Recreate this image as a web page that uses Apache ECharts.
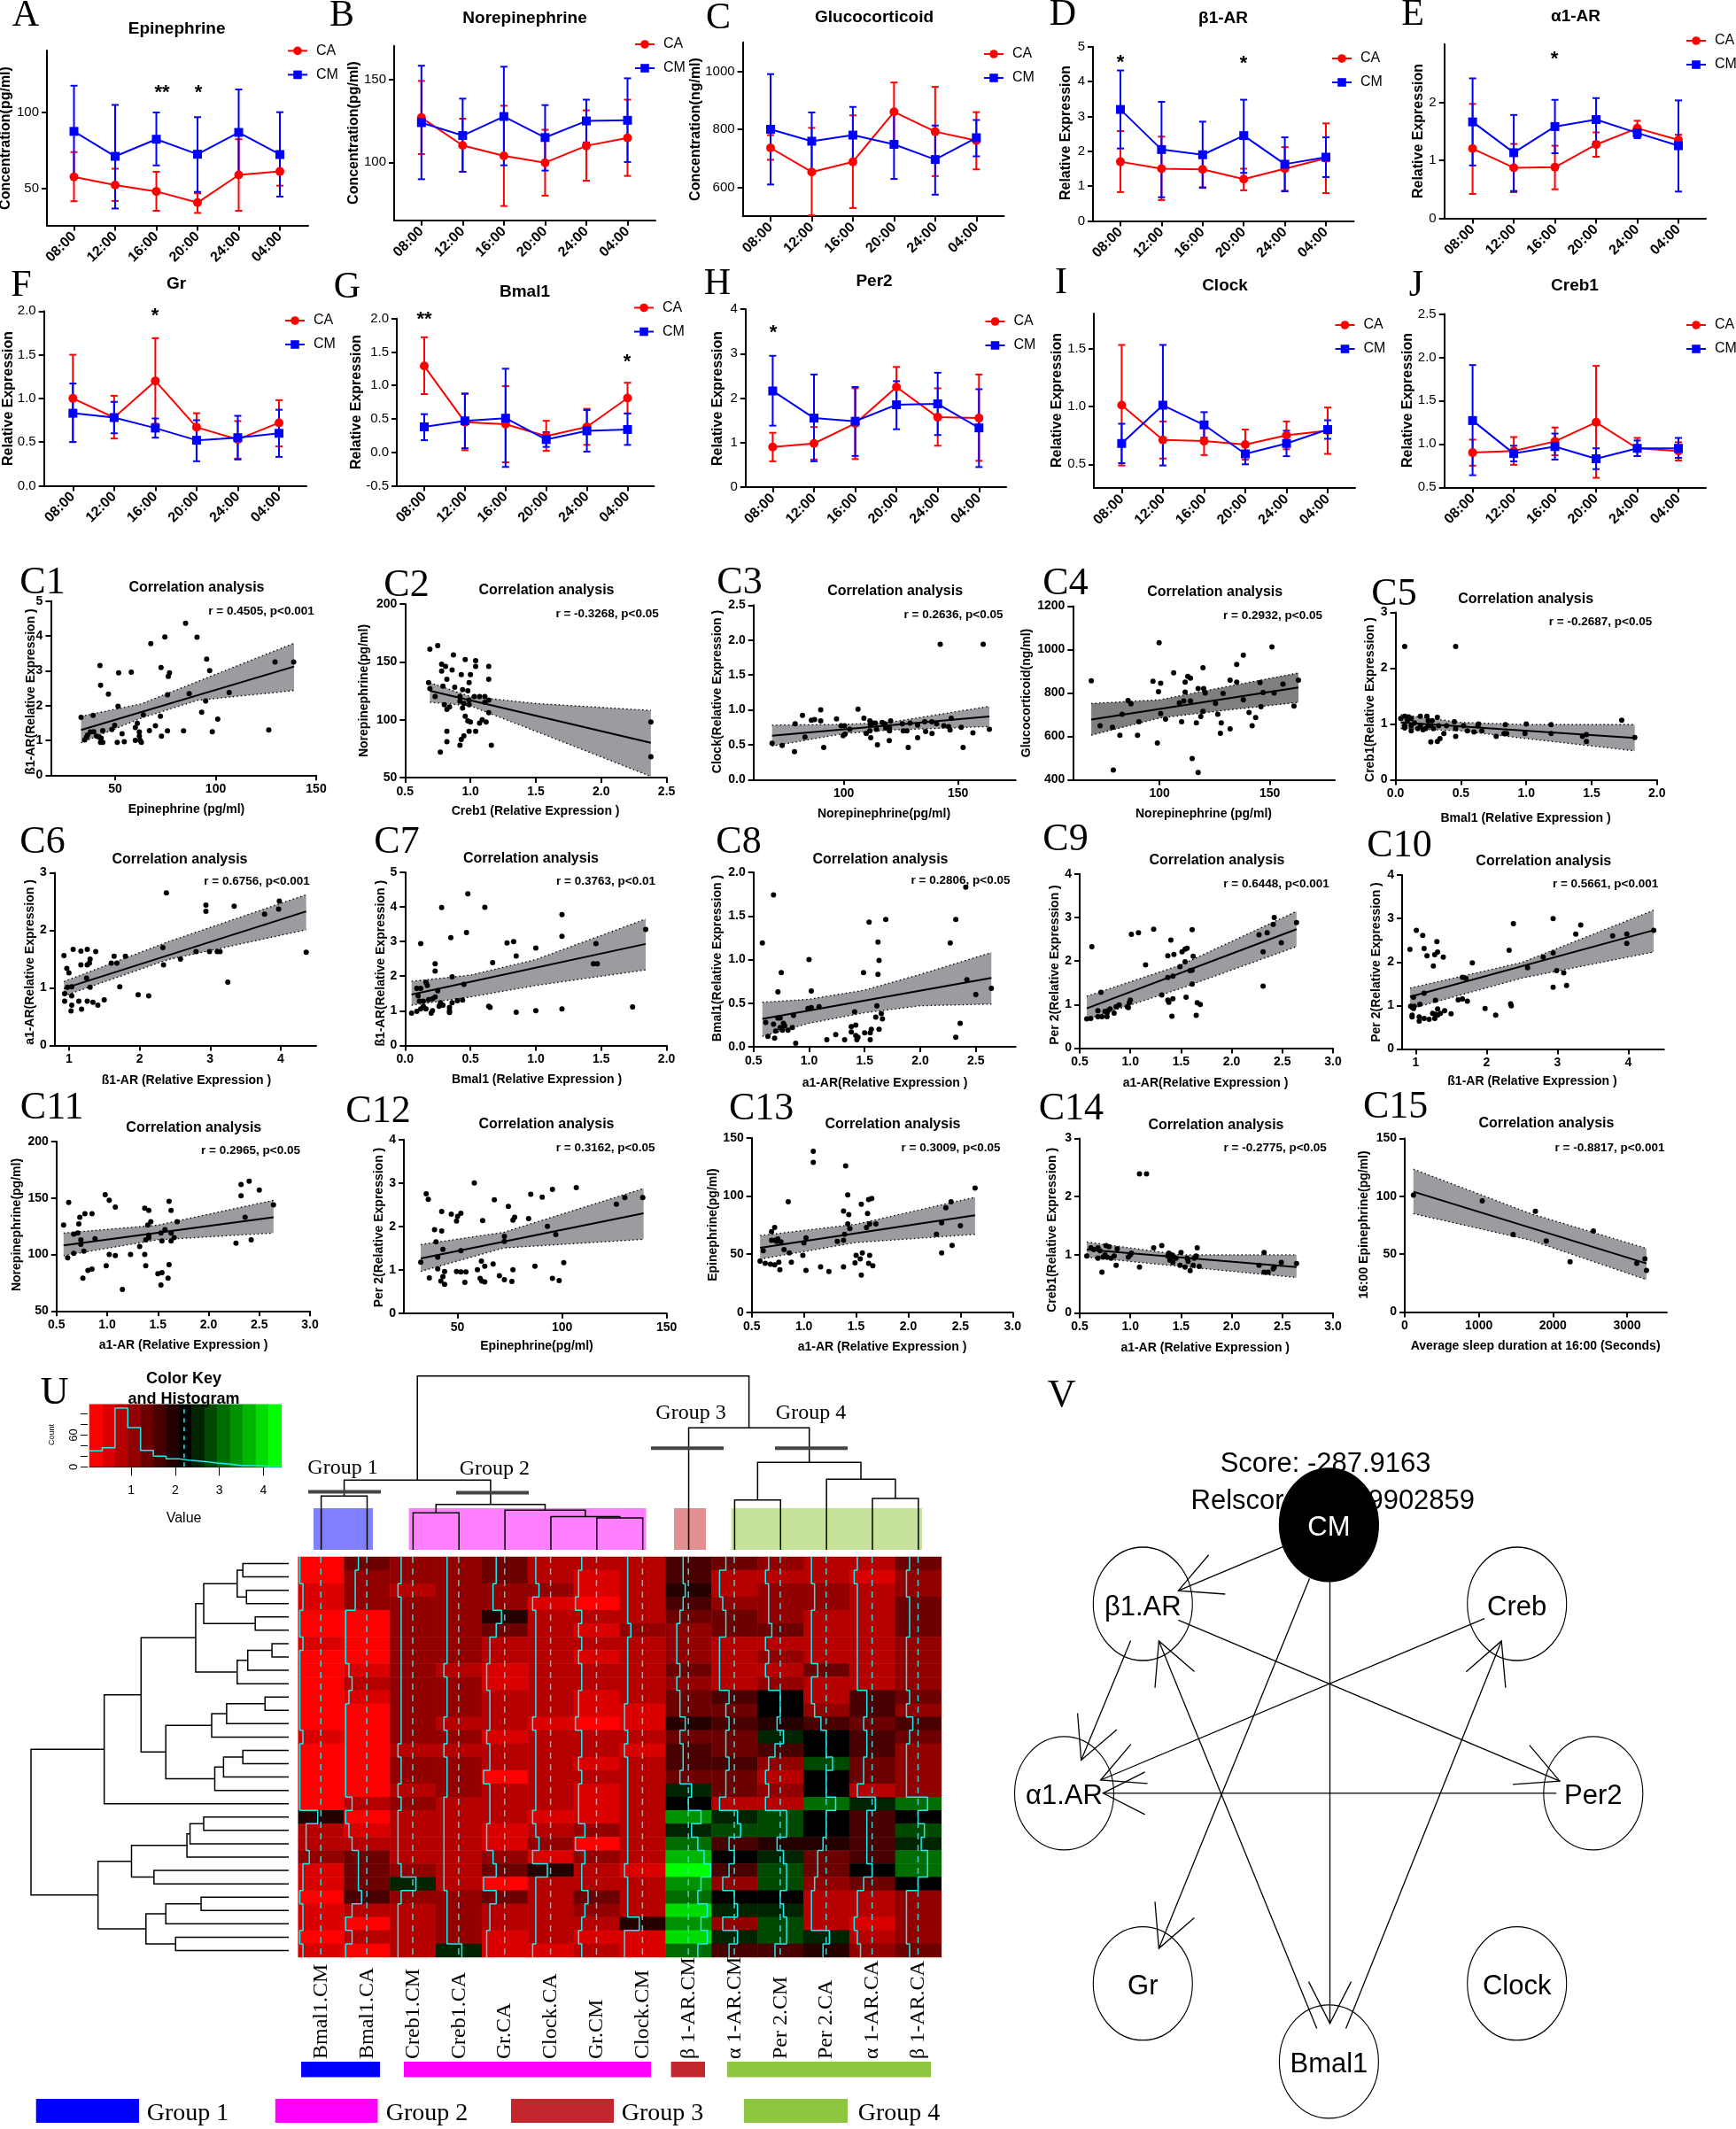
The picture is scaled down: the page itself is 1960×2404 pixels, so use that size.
<!DOCTYPE html>
<html>
<head>
<meta charset="utf-8">
<title>Figure</title>
<script src="https://cdn.jsdelivr.net/npm/echarts@6/dist/echarts.min.js"></script>
<style>
html, body { margin: 0; padding: 0; background: #fff; }
#main { width: 1960px; height: 2404px; }
</style>
</head>
<body>
<div id="main"></div>
<script>
// time course panels: means and error bar ends
const times = ['08:00', '12:00', '16:00', '20:00', '24:00', '04:00'];

const aCA = [57.4, 52, 47.8, 40.4, 58.7, 61];
const aCAhi = [73.8, 62.8, 60.8, 46.6, 82.3, 71];
const aCAlo = [41.3, 41.5, 35, 33.6, 35, 51.6];
const aCM = [87.5, 71, 82.3, 72.4, 86.8, 72.2];
const aCMhi = [117.7, 105, 100, 96.9, 115.2, 100.2];
const aCMlo = [57, 36.5, 65, 47.5, 58.7, 44.4];

const bCA = [127, 110.2, 103.9, 99.8, 110, 114.8];
const bCAhi = [149.2, 126.4, 134.2, 119.7, 131.4, 137.9];
const bCAlo = [105, 94.3, 73.6, 79.9, 88.9, 91.8];
const bCM = [124, 116.2, 127.7, 115, 125, 125.4];
const bCMhi = [158.4, 138.5, 157.8, 134.6, 137.9, 150.8];
const bCMlo = [89.8, 94.3, 98.2, 95, 112, 100.2];

const cCA = [736, 653, 688, 860, 792, 761];
const cCAhi = [780, 805, 848, 961, 946, 859];
const cCAlo = [695, 504, 529, 758, 639, 662];
const cCM = [800, 759, 780, 748, 696, 771];
const cCMhi = [990, 858, 877, 865, 813, 832];
const cCMlo = [610, 658, 685, 629, 575, 707];

const dCA = [1.7, 1.5, 1.48, 1.2, 1.5, 1.8];
const dCAhi = [2.58, 2.42, 1.98, 1.5, 2.12, 2.8];
const dCAlo = [0.83, 0.6, 0.97, 0.88, 0.87, 0.8];
const dCM = [3.2, 2.05, 1.9, 2.45, 1.63, 1.83];
const dCMhi = [4.32, 3.42, 2.85, 3.48, 2.4, 2.4];
const dCMlo = [2.08, 0.68, 0.95, 1.38, 0.85, 1.26];

const eCA = [1.2, 0.87, 0.88, 1.27, 1.55, 1.35];
const eCAhi = [1.97, 1.28, 1.25, 1.48, 1.68, 1.44];
const eCAlo = [0.42, 0.45, 0.5, 1.06, 1.43, 1.27];
const eCM = [1.66, 1.13, 1.58, 1.7, 1.47, 1.25];
const eCMhi = [2.41, 1.78, 2.04, 2.07, 1.55, 2.03];
const eCMlo = [0.91, 0.47, 1.12, 1.32, 1.38, 0.46];

const fCA = [1.0, 0.78, 1.2, 0.67, 0.53, 0.72];
const fCAhi = [1.5, 1.03, 1.69, 0.83, 0.74, 0.98];
const fCAlo = [0.5, 0.54, 0.71, 0.5, 0.31, 0.45];
const fCM = [0.83, 0.78, 0.66, 0.52, 0.55, 0.6];
const fCMhi = [1.17, 0.96, 0.77, 0.75, 0.8, 0.87];
const fCMlo = [0.5, 0.6, 0.55, 0.28, 0.3, 0.33];

const gCA = [1.29, 0.45, 0.42, 0.24, 0.38, 0.81];
const gCAhi = [1.72, 0.87, 0.99, 0.47, 0.65, 1.04];
const gCAlo = [0.87, 0.03, -0.15, 0.02, 0.11, 0.58];
const gCM = [0.38, 0.47, 0.51, 0.19, 0.32, 0.34];
const gCMhi = [0.57, 0.88, 1.25, 0.3, 0.63, 0.58];
const gCMlo = [0.18, 0.06, -0.22, 0.08, 0.01, 0.11];

const hCA = [0.9, 0.98, 1.43, 2.25, 1.57, 1.55];
const hCAhi = [1.22, 1.35, 2.22, 2.7, 2.22, 2.53];
const hCAlo = [0.58, 0.62, 0.63, 1.78, 0.93, 0.59];
const hCM = [2.16, 1.55, 1.48, 1.85, 1.87, 1.33];
const hCMhi = [2.95, 2.53, 2.25, 2.38, 2.57, 2.2];
const hCMlo = [1.38, 0.58, 0.7, 1.3, 1.17, 0.45];

const iCA = [1.01, 0.71, 0.7, 0.67, 0.75, 0.79];
const iCAhi = [1.53, 0.87, 0.85, 0.8, 0.87, 0.99];
const iCAlo = [0.49, 0.55, 0.58, 0.54, 0.63, 0.59];
const iCM = [0.68, 1.01, 0.84, 0.59, 0.68, 0.8];
const iCMhi = [0.85, 1.53, 0.95, 0.68, 0.79, 0.88];
const iCMlo = [0.51, 0.49, 0.73, 0.5, 0.57, 0.72];

const jCA = [0.9, 0.92, 1.03, 1.25, 0.95, 0.92];
const jCAhi = [1.05, 1.08, 1.19, 1.9, 1.07, 1.02];
const jCAlo = [0.75, 0.76, 0.87, 0.61, 0.86, 0.81];
const jCM = [1.27, 0.89, 0.97, 0.83, 0.95, 0.95];
const jCMhi = [1.91, 0.98, 1.12, 0.95, 1.04, 1.07];
const jCMlo = [0.64, 0.8, 0.82, 0.71, 0.86, 0.84];

// correlation panels: points, fit line, band edges
const c1Points = [[33,1.66],[39,1.72],[42.4,3.15],[42.7,2.58],[46.6,2.33],[51.4,1.98],[51.7,2.94],[58,2.96],[67.7,3.78],[72.8,3.09],[74.7,3.97],[85,4.36],[90.7,3.96],[95.5,3.33],[97,3],[76.4,2.84],[77,2.94],[76,2.31],[86.8,2.34],[95,2.13],[106.7,2.37],[101,1.61],[93,1.81],[98.3,1.25],[84,1.27],[126.4,1.3],[129.5,3.25],[138.8,3.25],[64,1.73],[72.5,1.69],[61,1.49],[60,1.37],[49.7,1.43],[48.3,1.31],[43.8,1.28],[37.6,1.24],[39.3,1.25],[36.2,1.15],[34.8,1.01],[35.7,1.09],[40.7,1.12],[42,1.09],[43,1.06],[43.8,0.94],[42.7,0.94],[51,0.94],[54.5,0.96],[53.4,1.19],[60,1],[62,1.24],[62,1.12],[62.4,1],[63,0.94],[67,1.28],[70,1.42],[73,1.12],[76,1.27]];
const c1Line = [[33,1.3],[139,3.12]];
const c1Upper = [[33,1.69],[63,2.05],[91,2.69],[139,3.79]];
const c1Lower = [[33,0.93],[63,1.64],[91,2.15],[139,2.43]];

const c2Points = [[0.69,161],[0.75,164],[0.87,156],[0.68,132],[0.69,127],[0.73,120],[0.78,148],[0.81,146],[0.78,142],[0.86,143],[0.96,152],[0.93,139],[1,139],[1.04,146],[1.04,151],[1.14,146],[1.14,135],[0.82,135],[0.79,129],[0.88,128],[0.94,126],[0.98,125],[0.99,132],[0.8,113],[0.84,111],[0.82,109],[0.92,120],[0.92,116],[0.95,114],[0.99,117],[0.99,113],[1.03,120],[1.07,120],[1.11,120],[1.11,115],[1.14,117],[1.14,106],[0.94,110],[0.96,103],[0.98,99],[1,98],[1.09,100],[1.12,98],[1.07,97],[0.82,90],[0.99,90],[1.04,90],[0.95,86],[0.93,83],[0.82,81],[0.92,78],[1.16,78],[0.77,72],[2.38,98],[2.38,68]];
const c2Line = [[0.69,125],[2.38,80]];
const c2Upper = [[0.69,132],[1,120],[1.5,114],[2.38,108]];
const c2Lower = [[0.69,115],[1,112],[1.5,90],[2.38,51]];

const c3Points = [[68.6,0.52],[73,0.49],[78.4,0.4],[78.7,0.8],[81.9,0.92],[83,0.61],[85.8,0.85],[87.2,0.86],[89.9,1],[89.9,0.84],[91.2,0.46],[96.8,0.87],[98.8,0.77],[100.3,0.77],[99.7,0.63],[100.5,0.65],[102.6,0.72],[106.2,1.01],[108.8,0.88],[109.8,0.66],[111.4,0.7],[111.8,0.6],[111.4,0.84],[112.7,0.81],[111.6,0.79],[113.8,0.81],[114.3,0.72],[114.7,0.5],[116.8,0.82],[118,0.8],[118.3,0.74],[119.9,0.56],[120,0.7],[120,0.74],[120.5,0.84],[125.6,0.8],[126,0.7],[127.6,0.7],[128.2,0.46],[129,0.81],[132.3,0.6],[132.3,0.78],[135.4,0.83],[135.8,0.69],[138.5,0.83],[138.6,0.66],[140.6,0.8],[142.2,1.94],[143.8,0.77],[145.9,0.76],[146.5,0.71],[147,0.88],[151.4,0.75],[152.2,0.46],[156.5,0.67],[161,1.94],[163.7,0.72]];
const c3Line = [[68.6,0.63],[163.7,0.905]];
const c3Upper = [[68.6,0.78],[100,0.79],[120,0.82],[163.7,1.05]];
const c3Lower = [[68.6,0.48],[100,0.66],[120,0.71],[163.7,0.76]];

const c4Points = [[69,857],[73,649],[78.6,642],[79,445],[82,606],[83,702],[85.7,766],[87,750],[90,606],[90.6,668],[97,855],[99.5,807],[99.8,1032],[100.5,845],[99,570],[100.5,706],[102.7,680],[106.4,893],[109,754],[110,668],[111,764],[111.6,850],[111.6,805],[112.8,877],[114,869],[114,764],[114.8,498],[116.7,663],[117.5,434],[117.5,821],[118.7,692],[119.7,917],[119.7,716],[120,821],[120.7,800],[125.4,752],[126.4,702],[127.6,615],[128.8,798],[128,663],[132,860],[132,635],[135,932],[135,850],[138,975],[138,769],[140.6,711],[142,649],[143.6,687],[145.6,848],[146,737],[147,802],[151,1013],[152,800],[156,841],[161,740],[163,860]];
const c4Line = [[69,678],[163,826]];
const c4Upper = [[69,752],[100,769],[130,829],[163,893]];
const c4Lower = [[69,606],[100,685],[130,721],[163,757]];

const c5Points = [[0.07,2.39],[0.46,2.39],[0.04,1.1],[0.07,1.14],[0.1,1.13],[0.12,1.1],[0.19,1.14],[0.24,1.14],[0.32,1.12],[0.45,1.04],[0.28,1.06],[0.25,1.06],[0.09,1.06],[0.07,0.97],[0.07,0.93],[0.12,0.97],[0.12,0.88],[0.145,1.02],[0.17,0.92],[0.19,0.97],[0.21,0.9],[0.23,0.92],[0.25,0.97],[0.27,0.97],[0.29,0.92],[0.33,0.97],[0.39,0.97],[0.46,0.92],[0.37,0.83],[0.46,0.78],[0.27,0.68],[0.32,0.69],[0.34,0.74],[0.52,0.97],[0.63,0.97],[0.635,1],[0.55,0.88],[0.6,0.86],[0.66,0.88],[0.77,0.78],[0.83,0.83],[0.85,0.83],[0.84,0.99],[1,1],[0.99,0.83],[1.19,0.99],[1.19,0.83],[1.43,0.78],[1.46,0.81],[1.46,0.69],[1.73,1.07],[1.83,0.76]];
const c5Line = [[0.04,1.03],[1.83,0.75]];
const c5Upper = [[0.04,1.17],[0.5,1.03],[1,0.99],[1.83,0.99]];
const c5Lower = [[0.04,0.92],[0.5,0.88],[1,0.74],[1.83,0.52]];

const c6Points = [[0.93,1.56],[0.97,1.34],[1,1.26],[1.06,1.67],[0.94,0.9],[0.94,0.77],[0.98,1.01],[1.04,1.02],[1.04,0.86],[1.03,0.6],[1.04,0.7],[1.14,0.77],[1.18,0.63],[1.17,1.64],[1.26,1.67],[1.3,1.5],[1.26,1.4],[1.29,1.43],[1.38,1.63],[1.25,1.17],[1.17,1.4],[1.3,1.01],[1.26,0.77],[1.34,0.75],[1.41,0.7],[1.5,0.79],[1.6,1.43],[1.64,1.55],[1.68,1.43],[1.72,1.02],[1.8,1.55],[1.98,0.88],[2.13,0.86],[2.33,1.7],[2.34,1.4],[2.38,2.65],[2.58,1.5],[2.8,1.63],[2.94,2.44],[2.94,2.33],[2.99,1.63],[3.1,1.63],[3.14,1.63],[3.25,1.1],[3.34,2.42],[3.77,2.28],[3.97,2.37],[3.98,2.51],[4.36,1.62]];
const c6Line = [[0.93,0.99],[4.36,2.33]];
const c6Upper = [[0.93,1.11],[2.4,1.8],[4.36,2.62]];
const c6Lower = [[0.93,0.86],[2.4,1.49],[4.36,2.01]];

const c7Points = [[0.48,4.38],[0.28,3.98],[0.61,3.99],[0.47,3.26],[0.35,3.11],[0.12,2.94],[0.78,2.96],[0.83,3],[1.2,3.78],[1.2,3.15],[1,2.81],[1.84,3.35],[1.46,2.94],[0.23,2.36],[0.23,2.15],[0.85,2.58],[0.67,2.39],[1.44,2.36],[1.47,2.36],[0.36,1.98],[0.45,1.76],[0.16,1.82],[0.17,1.73],[0.09,1.65],[0.12,1.65],[0.25,1.58],[0.23,1.4],[0.1,1.43],[0.21,1.35],[0.18,1.32],[0.14,1.28],[0.11,1.28],[0.44,1.31],[0.4,1.29],[0.36,1.23],[0.27,1.23],[0.29,1.16],[0.34,1.1],[0.34,1],[0.34,0.95],[0.26,1.13],[0.14,1.13],[0.12,1.05],[0.16,1.05],[0.21,1],[0.2,0.93],[0.05,0.93],[0.09,0.98],[0.64,1.13],[0.65,1.1],[0.85,0.96],[1,1],[1.2,1.05],[1.74,1.11]];
const c7Line = [[0.05,1.47],[1.84,2.93]];
const c7Upper = [[0.05,1.85],[0.5,2.03],[1,2.48],[1.84,3.65]];
const c7Lower = [[0.05,1.16],[0.5,1.4],[1,1.73],[1.84,2.18]];

const c8Points = [[0.58,1.19],[0.68,1.74],[0.61,0.28],[0.63,0.12],[0.68,0.26],[0.69,0.1],[0.7,0.18],[0.72,0.33],[0.72,0.63],[0.74,0.33],[0.74,0.22],[0.75,0.85],[0.76,0.19],[0.77,0.27],[0.78,0.24],[0.81,0.19],[0.85,0.22],[0.86,0.36],[0.88,0.04],[0.99,0.44],[1,1],[1.02,0.45],[1.02,0.64],[1.09,0.46],[1.16,0.08],[1.24,0.14],[1.32,0.08],[1.38,0.23],[1.38,0.17],[1.41,0.4],[1.42,0.25],[1.42,0.13],[1.43,0.08],[1.44,0.11],[1.49,0.85],[1.5,0.16],[1.54,1.43],[1.55,0.08],[1.55,0.16],[1.56,0.2],[1.6,0.34],[1.61,0.47],[1.62,1.2],[1.62,0.83],[1.63,0.2],[1.63,0.99],[1.65,0.38],[1.66,0.32],[1.69,1.46],[2.27,1.19],[2.32,1.46],[2.32,0.11],[2.36,0.27],[2.41,1.83],[2.42,0.77],[2.5,0.6],[2.64,0.67]];
const c8Line = [[0.58,0.32],[2.64,0.79]];
const c8Upper = [[0.58,0.51],[1,0.545],[1.5,0.65],[2,0.83],[2.64,1.08]];
const c8Lower = [[0.58,0.12],[1,0.27],[1.5,0.39],[2,0.47],[2.64,0.49]];

const c9Points = [[0.62,2.33],[0.57,0.67],[0.61,0.68],[0.68,0.72],[0.68,0.86],[0.71,1.28],[0.72,0.72],[0.75,0.84],[0.77,0.8],[0.78,0.86],[0.8,0.9],[0.77,0.72],[0.84,0.8],[0.86,0.95],[0.89,0.99],[0.97,0.95],[0.99,1.04],[1,1.1],[0.98,0.93],[1.01,2.61],[1.08,2.65],[1.23,2.73],[1.15,1.91],[1.31,1.22],[1.37,1.1],[1.37,1.62],[1.37,2.12],[1.4,2.48],[1.43,2.15],[1.42,1.65],[1.42,1.13],[1.41,0.73],[1.38,1.05],[1.49,1.87],[1.51,2.21],[1.54,2.27],[1.56,2.29],[1.54,1.98],[1.55,1.17],[1.61,2.72],[1.62,2.11],[1.59,1.78],[1.61,1.47],[1.61,1.79],[1.65,0.75],[1.66,1.04],[1.69,1],[2.27,2.6],[2.35,2.65],[2.31,2.21],[2.31,1.42],[2.41,2.84],[2.42,3],[2.49,2.42],[2.64,2.88]];
const c9Line = [[0.57,0.91],[2.64,2.73]];
const c9Upper = [[0.57,1.19],[1.5,1.91],[2.64,3.14]];
const c9Lower = [[0.57,0.66],[1.5,1.37],[2.64,2.33]];

const c10Points = [[0.92,2.29],[1.01,2.73],[1.1,2.61],[1.12,2.31],[1.16,2.14],[1.25,1.91],[1.27,2.17],[1.3,2.47],[1.31,2.23],[1.39,2.11],[0.97,1.19],[1.12,1.28],[0.93,0.98],[0.98,0.98],[0.97,0.93],[1.06,1.03],[1.28,1.12],[0.95,0.78],[0.95,0.74],[1.05,0.74],[1.05,0.64],[1.12,0.7],[1.19,0.68],[1.27,0.7],[1.24,0.82],[1.28,0.8],[1.31,0.92],[1.31,0.78],[1.35,0.82],[1.41,0.88],[1.5,0.81],[1.6,1.13],[1.66,1.15],[1.73,1.1],[1.66,1.65],[1.71,1.62],[1.8,1.98],[1.98,0.93],[2.13,0.78],[2.32,2.27],[2.34,1.04],[2.35,0.99],[2.38,2.88],[2.58,1.87],[2.8,2.11],[2.94,1.42],[2.94,3],[2.94,2.21],[2.99,1.8],[3.09,1.75],[3.13,1.46],[3.26,2.64],[3.33,2.85],[3.78,2.6],[3.98,2.64],[3.98,2.43],[4.36,2.73]];
const c10Line = [[0.92,1.2],[4.36,2.73]];
const c10Upper = [[0.92,1.4],[2.5,1.99],[4.36,3.19]];
const c10Lower = [[0.92,0.92],[2.5,1.63],[4.36,2.23]];

const c11Points = [[0.57,126],[0.62,146],[0.61,97],[0.67,101],[0.67,118],[0.71,119],[0.72,127],[0.73,133],[0.78,136],[0.74,113],[0.74,109],[0.77,103],[0.76,79],[0.81,86],[0.85,87],[0.85,136],[0.88,114],[0.98,153],[1.02,148],[1.08,142],[0.99,90],[1.02,100],[1.08,99],[1.15,69],[1.23,100],[1.32,107],[1.37,141],[1.41,139],[1.43,129],[1.4,126],[1.38,113],[1.37,100],[1.38,90],[1.41,117],[1.41,115],[1.5,83],[1.53,119],[1.57,122],[1.54,112],[1.54,84],[1.53,73],[1.6,79],[1.61,91],[1.61,147],[1.63,139],[1.63,119],[1.63,112],[1.66,115],[1.69,129],[2.27,110],[2.32,162],[2.32,152],[2.36,133],[2.4,165],[2.42,113],[2.5,157],[2.64,144]];
const c11Line = [[0.57,108],[2.64,133]];
const c11Upper = [[0.57,119],[1.5,126],[2.64,148]];
const c11Lower = [[0.57,99],[1.5,113],[2.64,119]];

const c12Points = [[32.4,1.17],[35,2.75],[36,2.62],[36.5,0.81],[39,1.92],[39.7,1.64],[40.5,1.29],[40.5,1.02],[42.4,1.89],[42.4,2.34],[43,1.47],[42,0.74],[43,0.84],[43.8,0.96],[43.8,0.66],[47,2.28],[50,2.23],[49.5,2.12],[51.6,2.3],[49.5,0.96],[51.6,0.95],[51.6,1.44],[53.5,0.71],[54,0.95],[58,3],[59.5,1],[60.8,0.8],[61.6,0.74],[62,2.13],[61.4,1.2],[63,1.08],[63,0.72],[67,1.13],[67.6,2.61],[70,0.86],[72.4,1.77],[72.4,1.65],[72.4,0.77],[74.3,2.46],[76,0.73],[76.5,1],[76.5,2.14],[77.3,2.21],[84,2.18],[85,2.74],[87,1.08],[90.5,2.67],[93,2],[95.4,2.85],[95.4,0.8],[97,1.81],[98.6,0.75],[100.8,1.16],[106.8,2.89],[126,2.51],[130,2.66],[138.6,2.66]];
const c12Line = [[32.4,1.26],[139,2.3]];
const c12Upper = [[32.4,1.58],[72,1.86],[139,2.87]];
const c12Lower = [[32.4,0.96],[72,1.5],[139,1.7]];

const c13Points = [[0.58,44],[0.61,53],[0.63,42],[0.68,41.4],[0.69,69.4],[0.69,62],[0.72,73],[0.72,62],[0.72,40.7],[0.74,61],[0.75,63],[0.76,43],[0.77,36.6],[0.78,60.5],[0.81,54],[0.85,95],[0.86,51],[0.88,43],[0.99,49],[1,59.7],[1.02,64],[1.02,36],[1.09,138.5],[1.09,129],[1.16,39],[1.24,35],[1.32,61],[1.38,87],[1.38,62],[1.38,39],[1.39,67],[1.4,126],[1.42,101],[1.42,76],[1.43,84],[1.44,72],[1.49,42.4],[1.5,49],[1.54,46],[1.55,93],[1.55,32],[1.56,51],[1.6,73],[1.61,85],[1.62,97],[1.62,42],[1.63,76],[1.63,49],[1.65,98],[1.66,40],[1.69,76],[2.27,67],[2.32,51],[2.32,77],[2.36,90],[2.41,95],[2.42,57.5],[2.5,74.5],[2.64,107]];
const c13Line = [[0.58,55.4],[2.64,83.4]];
const c13Upper = [[0.58,66],[1.5,75.7],[2.64,99]];
const c13Lower = [[0.58,45.7],[1.5,60],[2.64,67]];

const c14Points = [[1.09,2.39],[1.16,2.39],[0.57,0.98],[0.61,1.12],[0.64,1.09],[0.68,1.12],[0.7,1.07],[0.68,0.94],[0.72,0.7],[0.73,0.96],[0.75,1],[0.77,0.96],[0.76,1.16],[0.79,1.14],[0.81,0.94],[0.84,0.98],[0.86,0.82],[0.87,1.1],[1,1],[1.01,1.03],[0.98,0.96],[1.09,0.79],[1.23,1.12],[1.31,1.16],[1.37,0.98],[1.38,1.03],[1.39,0.91],[1.41,1],[1.42,0.87],[1.43,0.96],[1.45,0.94],[1.49,0.82],[1.5,1.04],[1.54,0.79],[1.56,0.94],[1.57,0.89],[1.59,0.73],[1.62,0.82],[1.63,0.94],[1.66,1.12],[1.65,0.98],[1.68,0.8],[2.27,0.82],[2.32,1.04],[2.32,0.7],[2.36,0.7],[2.41,0.76],[2.42,0.79],[2.49,0.87],[2.64,0.85]];
const c14Line = [[0.57,1.09],[2.64,0.79]];
const c14Upper = [[0.57,1.22],[1.5,1],[2.64,1]];
const c14Lower = [[0.57,0.96],[1.5,0.8],[2.64,0.61]];

const c15Points = [[117,101],[1046,96],[1463,67],[1763,87],[1909,61.5],[2231,43.5],[2546,70],[3131,42],[3241,46],[3262,36]];
const c15Line = [[117,104],[3262,42]];
const c15Upper = [[117,123.5],[1700,85],[3262,55]];
const c15Lower = [[117,85],[1700,62],[3262,28]];

// heatmap, one list per column, top row first
const heatColumns = ['Bmal1.CM', 'Bmal1.CA', 'Creb1.CM', 'Creb1.CA', 'Gr.CA', 'Clock.CA', 'Gr.CM', 'Clock.CM', 'β 1-AR.CM', 'α 1-AR.CM', 'Per 2.CM', 'Per 2.CA', 'α 1-AR.CA', 'β 1-AR.CA'];
const heatValues = [
  [.2,.2,.5,.5,.2,.2,.5,.2,.2,.2,.2,.2,.2,.5,.2,.2,.2,.2,.2,1.9,.8,.8,1.1,.5,.5,.2,.5,.5,.2,.5],
  [1.4,1.1,1.1,1.1,.2,.2,.2,.2,.5,.8,.5,.2,.2,.2,.2,.2,.2,.2,.8,.2,.5,.8,1.4,1.4,1.4,1.7,.8,.2,.8,.2],
  [1.1,1.1,.8,1.1,1.1,1.1,1.1,1.1,1.1,1.1,1.1,1.1,1.1,1.1,.8,1.1,1.1,.8,1.1,.8,.8,.8,.8,1.1,2.5,1.1,.8,.8,.8,.8],
  [1.1,1.1,1.1,1.1,1.1,1.1,1.1,1.1,.8,1.1,1.1,1.1,.8,1.1,.8,1.1,1.1,1.1,.8,.8,.8,.8,.8,.8,.8,1.1,1.1,1.1,1.1,2.5],
  [1.4,1.4,1.1,1.1,1.9,1.4,.8,.8,.5,.5,.8,.8,.8,.5,.8,.8,.2,.8,.8,.8,.5,.5,1.1,1.4,.2,1.4,.8,.8,.5,.5],
  [.8,.8,1.1,.5,.8,.8,.8,.8,.8,.8,.8,.8,.5,.8,.8,.8,.8,.8,.8,.5,.8,1.1,.5,1.9,.8,.8,.8,.8,.8,.5],
  [.8,.5,.5,.2,.8,.5,.8,.5,.8,.8,.5,.5,.2,.8,.8,.5,.8,.5,.5,.5,1.1,.2,1.1,.8,.8,1.4,1.1,.8,.5,.8],
  [.8,.8,.8,.8,.8,1.1,.8,.8,.8,.8,.8,.5,.5,.8,.5,.8,.8,.8,.8,.8,.8,.8,.8,.5,.8,.8,.8,1.9,.5,.5],
  [1.7,1.7,1.9,1.7,1.4,1.1,1.1,1.1,1.4,1.1,1.4,1.4,1.9,1.4,1.7,1.7,1.4,2.5,2.2,3.4,2.5,3.1,3.7,4.3,3.4,3.1,4,3.4,4,3.1],
  [1.4,.8,.8,1.1,1.4,1.4,.8,.8,.8,.8,1.7,1.4,1.7,1.4,1.4,1.7,1.4,1.4,.8,2.5,2.8,1.7,2.2,1.7,1.1,2.2,2.5,1.1,2.5,1.7],
  [1.1,.8,1.1,1.1,1.1,1.4,.8,1.1,.8,1.1,2.2,2.2,1.9,2.5,1.7,1.1,.8,1.1,.8,2.8,2.8,1.9,2.5,2.8,2.8,2.2,2.5,2.8,2.8,1.7],
  [.8,.8,1.1,1.1,.8,.8,.8,.8,1.4,.8,.8,1.1,1.7,2.2,2.2,2.8,2.2,2.2,3.1,2.2,2.2,1.9,1.4,1.4,1.1,.8,.8,.8,2.5,1.9],
  [.8,.5,.8,.8,.8,.8,.8,.8,.8,.8,1.7,1.7,1.4,1.7,1.7,1.4,1.4,.8,2.5,1.7,1.7,1.7,1.7,2.2,1.4,.8,.8,.5,.8,1.1],
  [1.4,1.1,1.1,1.4,1.4,1.4,1.1,1.1,1.1,1.1,1.4,1.1,1.7,1.4,1.1,1.1,1.1,1.1,3.1,2.2,2.8,2.5,3.1,3.1,2.2,1.1,1.1,1.1,1.1,1.4]
];

// colour key: bin edges, bin colours, histogram counts
const keyBreaks = [0.05, 0.34, 0.63, 0.92, 1.21, 1.5, 1.79, 2.08, 2.37, 2.66, 2.95, 3.24, 3.53, 3.82, 4.11, 4.41];
const keyColors = ['#ff0000', '#db0000', '#b60000', '#920000', '#6d0000', '#490000', '#240000', '#000000', '#002400', '#004900', '#006d00', '#009200', '#00b600', '#00db00', '#00ff00'];
const keyCounts = [30, 36, 111, 74, 31, 20, 15, 12, 10, 7, 5, 2, 2, 1, 1];

// clustering trees: [height, left, right], a plain number is a leaf
const topTree = [100,
  [40.2, [30.9, 0, 1], [26.1, [21.3, 2, 3], [22.8, 4, [19.1, 5, [18.3, 6, 7]]]]],
  [70.2, 8, [50.3, [28.7, 9, 10], [40.7, 11, [29.5, 12, 13]]]]];
const leftTree = [100,
  [71.6,
    [57.3,
      [36.1, [33, [20, [17.8, 0, 1], [16.4, 2, 3]], [13, 4, 5]], [20, [15.9, [6.5, 6, 7], 8], 9]],
      [47.7, [29.9, [24.1, [9.2, 10, 11], 12], 13], [28.7, [25.3, [17.8, 14, 15], 16], 17]]],
    18],
  [74,
    [61, [39.5, [38.3, [33, 19, 20], 21], 22], [52.3, 23, 24]],
    [55.4, [47.7, [34, 25, 26], 27], [43.9, 28, 29]]]];

// network
const netNodes = [['CM', 400.4, 181.8], ['β1.AR', 190.3, 271], ['Creb', 612.7, 271], ['α1.AR', 101.5, 484.9], ['Per2', 698.8, 484.9], ['Gr', 190.3, 699.7], ['Clock', 612.7, 699.7], ['Bmal1', 400.4, 787.9]];
const netEdges = [[348.3,206.6,230.4,256.2],[378.5,242.4,208.4,660.1],[401.5,245.2,401.5,744.9],[176.6,312.4,120.7,447.4],[230.4,289.3,661,471.1],[576,287.6,142.6,470],[657.2,484.8,145.4,484.8],[386.7,750.4,208.4,312.9],[419.6,750.4,595.2,312.9]];

// ---- layout tables ----
const sans = '"Liberation Sans"';
const serif = '"Liberation Serif"';

const linePanels = [
  { title: 'Epinephrine', tp: [199.6, 33], letter: ['A', 29, 18], l: 53, r: 348, t: 57, b: 254.5, x0: 83.5, x5: 316, yA: [50, 212.4], yB: [100, 127], yTicks: [50, 100], dec: 0, yName: 'Concentration(pg/ml)', yn: [7, 156], leg: [335, 57.4], d: [aCA, aCAhi, aCAlo, aCM, aCMhi, aCMlo] },
  { title: 'Norepinephrine', tp: [592.5, 21], letter: ['B', 386, 18], l: 445, r: 740, t: 51.7, b: 248.8, x0: 475.8, x5: 708.5, yA: [100, 183.3], yB: [150, 89.9], yTicks: [100, 150], dec: 0, yName: 'Concentration(pg/ml)', yn: [400, 150], leg: [727, 50], d: [bCA, bCAhi, bCAlo, bCM, bCMhi, bCMlo] },
  { title: 'Glucocorticoid', tp: [987, 20], letter: ['C', 811, 21], l: 838.6, r: 1133.5, t: 47.8, b: 244.2, x0: 870, x5: 1102.3, yA: [600, 211.6], yB: [1000, 80.4], yTicks: [600, 800, 1000], dec: 0, yName: 'Concentration(ng/ml)', yn: [786, 146], leg: [1121, 61], d: [cCA, cCAhi, cCAlo, cCM, cCMhi, cCMlo] },
  { title: 'β1-AR', tp: [1381, 21], letter: ['D', 1200, 17], l: 1234, r: 1528.5, t: 52.8, b: 249.5, x0: 1265, x5: 1497, yA: [0, 249.5], yB: [5, 52.8], yTicks: [0, 1, 2, 3, 4, 5], dec: 0, yName: 'Relative Expression', yn: [1204, 150], leg: [1514, 66], d: [dCA, dCAhi, dCAlo, dCM, dCMhi, dCMlo] },
  { title: 'α1-AR', tp: [1779, 19], letter: ['E', 1595, 17], l: 1630.7, r: 1926, t: 49.8, b: 246.5, x0: 1662.6, x5: 1895, yA: [0, 246.5], yB: [3, 49.8], yTicks: [0, 1, 2, 3], dec: 0, yName: 'Relative Expression', yn: [1602, 148], leg: [1914, 46], d: [eCA, eCAhi, eCAlo, eCM, eCMhi, eCMlo] },
  { title: 'Gr', tp: [199, 321], letter: ['F', 24, 323], l: 49.7, r: 346, t: 351.3, b: 548.4, x0: 82.3, x5: 315, yA: [0, 548.4], yB: [2, 351.3], yTicks: [0, 0.5, 1, 1.5, 2], dec: 1, yName: 'Relative Expression', yn: [10, 450], leg: [332, 362], d: [fCA, fCAhi, fCAlo, fCM, fCMhi, fCMlo] },
  { title: 'Bmal1', tp: [592.5, 330], letter: ['G', 392, 325], l: 448, r: 738.5, t: 359.7, b: 548.4, x0: 479, x5: 708.5, yA: [-0.5, 548.4], yB: [2, 359.7], yTicks: [-0.5, 0, 0.5, 1, 1.5, 2], dec: 1, yName: 'Relative Expression', yn: [403, 454], leg: [726, 347.5], d: [gCA, gCAhi, gCAlo, gCM, gCMhi, gCMlo] },
  { title: 'Per2', tp: [987, 318], letter: ['H', 810, 321], l: 841.8, r: 1136, t: 349, b: 550, x0: 872.4, x5: 1105.3, yA: [0, 550], yB: [4, 349], yTicks: [0, 1, 2, 3, 4], dec: 0, yName: 'Relative Expression', yn: [811, 450], leg: [1122.5, 363], d: [hCA, hCAhi, hCAlo, hCM, hCMhi, hCMlo] },
  { title: 'Clock', tp: [1383, 323], letter: ['I', 1198, 320], l: 1235, r: 1530, t: 354, b: 551, x0: 1266.4, x5: 1499, yA: [0.5, 524.3], yB: [1.5, 393.4], yTicks: [0.5, 1, 1.5], dec: 1, yName: 'Relative Expression', yn: [1194, 452], leg: [1517.5, 367], d: [iCA, iCAhi, iCAlo, iCM, iCMhi, iCMlo] },
  { title: 'Creb1', tp: [1778, 323], letter: ['J', 1599, 323], l: 1630.7, r: 1926, t: 354.4, b: 550.3, x0: 1662.6, x5: 1895, yA: [0.5, 550.3], yB: [2.5, 354.4], yTicks: [0.5, 1, 1.5, 2, 2.5], dec: 1, yName: 'Relative Expression', yn: [1590, 452], leg: [1914, 367], d: [jCA, jCAhi, jCAlo, jCM, jCMhi, jCMlo] }
];

const half = [0.5, 1, 1.5, 2, 2.5];
const half3 = [0.5, 1, 1.5, 2, 2.5, 3];
const scatterPanels = [
  { label: 'C1', lp: [48, 658], tp: [222, 664], r2: 'r = 0.4505, p<0.001', rp: [295, 690], xn: 'Epinephrine (pg/ml)', xp: [210.5, 914], yn: 'ß1-AR(Relative Expression )', yp: [35, 781], l: 57.4, r: 357, t: 678.7, b: 875.3, xA: [50, 130.1], xB: [150, 357], yA: [0, 875.3], yB: [5, 678.7], xT: [50, 100, 150], yT: [0, 1, 2, 3, 4, 5], xd: 0, yd: 0, pts: c1Points, fit: c1Line, up: c1Upper, lo: c1Lower },
  { label: 'C2', lp: [459, 661], tp: [617, 667], r2: 'r = -0.3268, p<0.05', rp: [685.6, 693], xn: 'Creb1 (Relative Expression )', xp: [604.6, 916], yn: 'Norepinephrine(pg/ml)', yp: [411, 780], l: 457.3, r: 752.6, t: 682, b: 878, xA: [0.5, 457.3], xB: [2.5, 752.6], yA: [50, 878], yB: [200, 682], xT: half, yT: [50, 100, 150, 200], xd: 1, yd: 0, pts: c2Points, fit: c2Line, up: c2Upper, lo: c2Lower },
  { label: 'C3', lp: [835, 658], tp: [1010.6, 668], r2: 'r = 0.2636, p<0.05', rp: [1076.5, 694.5], xn: 'Norepinephrine(pg/ml)', xp: [998, 919], yn: 'Clock(Relative Expression )', yp: [810, 781], l: 850.7, r: 1146.7, t: 683.3, b: 880.3, xA: [100, 952.7], xB: [150, 1081.7], yA: [0, 880.3], yB: [2.5, 683.3], xT: [100, 150], yT: [0, 0.5, 1, 1.5, 2, 2.5], xd: 0, yd: 1, pts: c3Points, fit: c3Line, up: c3Upper, lo: c3Lower },
  { label: 'C4', lp: [1203, 659], tp: [1371.7, 668.5], r2: 'r = 0.2932, p<0.05', rp: [1437, 695], xn: 'Norepinephrine (pg/ml)', xp: [1359, 919], yn: 'Glucocorticoid(ng/ml)', yp: [1159, 782.5], l: 1211.3, r: 1507, t: 684.6, b: 880.6, xA: [100, 1309.2], xB: [150, 1433.6], yA: [400, 880.6], yB: [1200, 684.6], xT: [100, 150], yT: [400, 600, 800, 1000, 1200], xd: 0, yd: 0, pts: c4Points, fit: c4Line, up: c4Upper, lo: c4Lower, band: '#7f7f7f' },
  { label: 'C5', lp: [1574, 671], tp: [1722.6, 676.7], r2: 'r = -0.2687, p<0.05', rp: [1807, 702.7], xn: 'Bmal1 (Relative Expression )', xp: [1722.6, 924.4], yn: 'Creb1(Relative Expression )', yp: [1547, 790], l: 1575.6, r: 1870.8, t: 691.6, b: 880.6, xA: [0, 1575.6], xB: [2, 1870.8], yA: [0, 880.6], yB: [3, 691.6], xT: [0, 0.5, 1, 1.5, 2], yT: [0, 1, 2, 3], xd: 1, yd: 0, pts: c5Points, fit: c5Line, up: c5Upper, lo: c5Lower },
  { label: 'C6', lp: [48, 951.6], tp: [203, 971], r2: 'r = 0.6756, p<0.001', rp: [290, 995.6], xn: 'ß1-AR (Relative Expression )', xp: [210.5, 1220], yn: 'a1-AR(Relative Expression )', yp: [34, 1086.5], l: 61.9, r: 357, t: 985.6, b: 1180.4, xA: [1, 77.8], xB: [4, 317], yA: [0, 1180.4], yB: [3, 985.6], xT: [1, 2, 3, 4], yT: [0, 1, 2, 3], xd: 0, yd: 0, pts: c6Points, fit: c6Line, up: c6Upper, lo: c6Lower },
  { label: 'C7', lp: [448, 951.6], tp: [599.5, 970], r2: 'r = 0.3763, p<0.01', rp: [684, 995.6], xn: 'Bmal1 (Relative Expression )', xp: [606, 1219.6], yn: 'ß1-AR(Relative Expression )', yp: [430.5, 1087.7], l: 457.3, r: 752.6, t: 985, b: 1180.4, xA: [0, 457.3], xB: [2, 752.6], yA: [0, 1180.4], yB: [5, 985], xT: [0, 0.5, 1, 1.5, 2], yT: [0, 1, 2, 3, 4, 5], xd: 1, yd: 0, pts: c7Points, fit: c7Line, up: c7Upper, lo: c7Lower },
  { label: 'C8', lp: [834, 951.6], tp: [994, 971], r2: 'r = 0.2806, p<0.05', rp: [1084.5, 994], xn: 'a1-AR(Relative Expression )', xp: [999, 1223], yn: 'Bmal1(Relative Expression )', yp: [810, 1082], l: 850.7, r: 1146.7, t: 985, b: 1182, xA: [0.5, 850.7], xB: [2.5, 1101.7], yA: [0, 1182], yB: [2, 985], xT: half, yT: [0, 0.5, 1, 1.5, 2], xd: 1, yd: 1, pts: c8Points, fit: c8Line, up: c8Upper, lo: c8Lower },
  { label: 'C9', lp: [1203, 948.6], tp: [1374, 972], r2: 'r = 0.6448, p<0.001', rp: [1441, 998], xn: 'a1-AR(Relative Expression )', xp: [1361, 1223], yn: 'Per 2(Relative Expression )', yp: [1191, 1089.5], l: 1219, r: 1505, t: 986.8, b: 1183.4, xA: [0.5, 1219], xB: [3, 1505], yA: [0, 1183.4], yB: [4, 986.8], xT: half3, yT: [0, 1, 2, 3, 4], xd: 1, yd: 0, pts: c9Points, fit: c9Line, up: c9Upper, lo: c9Lower },
  { label: 'C10', lp: [1580, 955.7], tp: [1742.8, 973], r2: 'r = 0.5661, p<0.001', rp: [1812.6, 998.5], xn: 'ß1-AR (Relative Expression )', xp: [1730, 1220.8], yn: 'Per 2(Relative Expression )', yp: [1554, 1086.5], l: 1583, r: 1878.7, t: 988, b: 1184.5, xA: [1, 1598.3], xB: [4, 1838.3], yA: [0, 1184.5], yB: [4, 988], xT: [1, 2, 3, 4], yT: [0, 1, 2, 3, 4], xd: 0, yd: 0, pts: c10Points, fit: c10Line, up: c10Upper, lo: c10Lower },
  { label: 'C11', lp: [58.7, 1251], tp: [218.8, 1274], r2: 'r = 0.2965, p<0.05', rp: [283, 1299.6], xn: 'a1-AR (Relative Expression )', xp: [207, 1519], yn: 'Norepinephrine(pg/ml)', yp: [19, 1383], l: 63.8, r: 350, t: 1289, b: 1480.3, xA: [0.5, 63.8], xB: [3, 350], yA: [50, 1480.3], yB: [200, 1289], xT: half3, yT: [50, 100, 150, 200], xd: 1, yd: 0, pts: c11Points, fit: c11Line, up: c11Upper, lo: c11Lower },
  { label: 'C12', lp: [427, 1255], tp: [617, 1270], r2: 'r = 0.3162, p<0.05', rp: [683.7, 1296.6], xn: 'Epinephrine(pg/ml)', xp: [606, 1520.6], yn: 'Per 2(Relative Expression )', yp: [428.6, 1386], l: 456, r: 752.6, t: 1286.7, b: 1482.7, xA: [50, 516.6], xB: [150, 752.6], yA: [0, 1482.7], yB: [4, 1286.7], xT: [50, 100, 150], yT: [0, 1, 2, 3, 4], xd: 0, yd: 0, pts: c12Points, fit: c12Line, up: c12Upper, lo: c12Lower },
  { label: 'C13', lp: [859.7, 1252.6], tp: [1008, 1270], r2: 'r = 0.3009, p<0.05', rp: [1073.5, 1296.6], xn: 'a1-AR (Relative Expression )', xp: [996, 1521], yn: 'Epinephrine(pg/ml)', yp: [805, 1383], l: 848.7, r: 1143.3, t: 1285, b: 1481.7, xA: [0.5, 848.7], xB: [3, 1143.3], yA: [0, 1481.7], yB: [150, 1285], xT: half3, yT: [0, 50, 100, 150], xd: 1, yd: 0, pts: c13Points, fit: c13Line, up: c13Upper, lo: c13Lower },
  { label: 'C14', lp: [1209.4, 1252.6], tp: [1373, 1270.6], r2: 'r = -0.2775, p<0.05', rp: [1439.7, 1296.6], xn: 'a1-AR (Relative Expression )', xp: [1360.7, 1522.4], yn: 'Creb1(Relative Expression )', yp: [1188.6, 1388.8], l: 1219, r: 1505, t: 1285.5, b: 1482.6, xA: [0.5, 1219], xB: [3, 1505], yA: [0, 1482.6], yB: [3, 1285.5], xT: half3, yT: [0, 1, 2, 3], xd: 1, yd: 0, pts: c14Points, fit: c14Line, up: c14Upper, lo: c14Lower },
  { label: 'C15', lp: [1575.6, 1250.9], tp: [1745.9, 1268.3], r2: 'r = -0.8817, p<0.001', rp: [1817.5, 1296], xn: 'Average sleep duration at 16:00 (Seconds)', xp: [1733.6, 1520], yn: '16:00 Epinephrine(pg/ml)', yp: [1540, 1383], l: 1586, r: 1881.8, t: 1285.5, b: 1481.5, xA: [0, 1586], xB: [3000, 1837], yA: [0, 1481.5], yB: [150, 1285.5], xT: [0, 1000, 2000, 3000], yT: [0, 50, 100, 150], xd: 0, yd: 0, pts: c15Points, fit: c15Line, up: c15Upper, lo: c15Lower }
];

const stars = [['**', 183, 102], ['*', 224, 102], ['*', 1265, 68], ['*', 1404, 69], ['*', 1755, 64], ['*', 175, 354], ['**', 479, 358], ['*', 708, 406], ['*', 873, 373]];

// ---- option parts ----
const grids = [], xAxes = [], yAxes = [], series = [], legends = [], gfx = [];

function scaleAt(a, b, px) {
  return a[0] + (px - a[1]) * (b[0] - a[0]) / (b[1] - a[1]);
}

function addText(text, x, y, font, extra) {
  gfx.push(Object.assign({
    type: 'text', x: x, y: y, z: 10, silent: true,
    style: { text: text, font: font, fill: '#000', align: 'center', verticalAlign: 'middle', textAlign: 'center', textVerticalAlign: 'middle' }
  }, extra || {}));
}

function addRect(x1, y1, x2, y2, fill, z) {
  gfx.push({ type: 'rect', z: z || 0, silent: true, shape: { x: x1, y: y1, width: x2 - x1, height: y2 - y1 }, style: { fill: fill } });
}

function addGrid(l, r, t, b) {
  grids.push({ left: l, top: t, width: r - l, height: b - t });
  return grids.length - 1;
}

function numAxis(idx, min, max, ticks, fmt, font) {
  return {
    type: 'value', gridIndex: idx, min: min, max: max,
    axisLine: { show: true, onZero: false, lineStyle: { color: '#000', width: 2 } },
    axisTick: { show: true, customValues: ticks, length: 6, lineStyle: { color: '#000', width: 2 } },
    axisLabel: Object.assign({ customValues: ticks, formatter: fmt, color: '#000', margin: 9, hideOverlap: false }, font),
    splitLine: { show: false }
  };
}

function hiddenAxis(idx, min, max, inverse) {
  return { type: 'value', gridIndex: idx, min: min, max: max, inverse: !!inverse, show: false, splitLine: { show: false } };
}

function errorBars(gi, color, hi, lo) {
  return {
    type: 'custom', xAxisIndex: gi, yAxisIndex: gi, silent: true,
    data: times.map((t, i) => [i, hi[i], lo[i]]),
    renderItem(params, api) {
      const x = api.value(0);
      const top = api.coord([x, api.value(1)]);
      const bot = api.coord([x, api.value(2)]);
      const st = { stroke: color, lineWidth: 2, fill: null };
      return {
        type: 'group', children: [
          { type: 'polyline', shape: { points: [top, bot] }, style: st },
          { type: 'polyline', shape: { points: [[top[0] - 4, top[1]], [top[0] + 4, top[1]]] }, style: st },
          { type: 'polyline', shape: { points: [[bot[0] - 4, bot[1]], [bot[0] + 4, bot[1]]] }, style: st }
        ]
      };
    }
  };
}

function meanLine(gi, name, color, symbol, vals) {
  return {
    type: 'line', name: name, xAxisIndex: gi, yAxisIndex: gi, symbol: symbol, symbolSize: 10,
    data: vals.map((v, i) => [i, v]),
    lineStyle: { color: color, width: 2 }, itemStyle: { color: color }, silent: true
  };
}

linePanels.forEach(p => {
  const gi = addGrid(p.l, p.r, p.t, p.b);
  const xA = [0, p.x0], xB = [5, p.x5];
  const x = numAxis(gi, scaleAt(xA, xB, p.l), scaleAt(xA, xB, p.r), [0, 1, 2, 3, 4, 5], v => times[v], { fontFamily: sans, fontSize: 16, fontWeight: 'bold', rotate: 45, margin: 10 });
  xAxes.push(x);
  yAxes.push(numAxis(gi, scaleAt(p.yA, p.yB, p.b), scaleAt(p.yA, p.yB, p.t), p.yTicks, v => v.toFixed(p.dec), { fontFamily: sans, fontSize: 15 }));
  const d = p.d;
  series.push(errorBars(gi, '#ff0000', d[1], d[2]));
  series.push(meanLine(gi, 'CA', '#ff0000', 'circle', d[0]));
  series.push(errorBars(gi, '#0000ff', d[4], d[5]));
  series.push(meanLine(gi, 'CM', '#0000ff', 'rect', d[3]));
  legends.push({
    left: p.leg[0] - 11, top: p.leg[1] - 8, orient: 'vertical', data: ['CA', 'CM'], selectedMode: false,
    itemWidth: 22, itemHeight: 12, itemGap: 11, padding: 0,
    textStyle: { fontFamily: sans, fontSize: 16, color: '#000', padding: [0, 0, 0, 5] }
  });
  addText(p.title, p.tp[0], p.tp[1], 'bold 19px ' + sans);
  addText(p.letter[0], p.letter[1], p.letter[2], '42px ' + serif);
  addText(p.yName, p.yn[0], p.yn[1], 'bold 16px ' + sans, { rotation: Math.PI / 2 });
});

scatterPanels.forEach(p => {
  const gi = addGrid(p.l, p.r, p.t, p.b);
  xAxes.push(numAxis(gi, scaleAt(p.xA, p.xB, p.l), scaleAt(p.xA, p.xB, p.r), p.xT, v => v.toFixed(p.xd), { fontFamily: sans, fontSize: 14, fontWeight: 'bold' }));
  yAxes.push(numAxis(gi, scaleAt(p.yA, p.yB, p.b), scaleAt(p.yA, p.yB, p.t), p.yT, v => v.toFixed(p.yd), { fontFamily: sans, fontSize: 14, fontWeight: 'bold' }));
  series.push({
    type: 'custom', xAxisIndex: gi, yAxisIndex: gi, z: 1, silent: true, data: [[0]],
    renderItem(params, api) {
      const up = p.up.map(c => api.coord(c));
      const lo = p.lo.map(c => api.coord(c));
      return { type: 'polygon', shape: { points: up.concat(lo.slice().reverse()) }, style: { fill: p.band || '#9b9ba0' } };
    }
  });
  [p.up, p.lo].forEach(edge => series.push({
    type: 'line', xAxisIndex: gi, yAxisIndex: gi, z: 2, silent: true, symbol: 'none', data: edge,
    lineStyle: { color: '#000', width: 1.3, type: [1.5, 3] }
  }));
  series.push({
    type: 'line', xAxisIndex: gi, yAxisIndex: gi, z: 3, silent: true, symbol: 'none', data: p.fit,
    lineStyle: { color: '#000', width: 2 }
  });
  series.push({
    type: 'scatter', xAxisIndex: gi, yAxisIndex: gi, z: 4, silent: true, symbolSize: 6, data: p.pts,
    itemStyle: { color: '#000', opacity: 1 }
  });
  addText(p.label, p.lp[0], p.lp[1], '44px ' + serif);
  addText('Correlation analysis', p.tp[0], p.tp[1], 'bold 16px ' + sans);
  addText(p.r2, p.rp[0], p.rp[1], 'bold 13.5px ' + sans);
  addText(p.xn, p.xp[0], p.xp[1], 'bold 14px ' + sans);
  addText(p.yn, p.yp[0], p.yp[1], 'bold 14px ' + sans, { rotation: Math.PI / 2 });
});

stars.forEach(s => addText(s[0], s[1], s[2] + 3, 'bold 22px ' + sans));

// ---- heatmap ----
const heatBox = { l: 336.7, r: 1062.8, t: 1758, b: 2210 };
const rowNames = heatValues[0].map((v, i) => 'r' + i);
let gi = addGrid(heatBox.l, heatBox.r, heatBox.t, heatBox.b);
xAxes.push({
  type: 'category', gridIndex: gi, data: heatColumns, axisLine: { show: false }, axisTick: { show: false },
  axisLabel: { interval: 0, rotate: 90, align: 'left', margin: 115, fontFamily: serif, fontSize: 24, color: '#000' }
});
yAxes.push({ type: 'category', gridIndex: gi, data: rowNames, inverse: true, show: false });
const heatData = [];
heatValues.forEach((col, c) => col.forEach((v, r) => heatData.push([c, r, v])));
const heatSeriesIndex = series.length;
series.push({ type: 'heatmap', xAxisIndex: gi, yAxisIndex: gi, data: heatData, silent: true, progressive: 0 });

// trace lines on top of the heatmap
gi = addGrid(heatBox.l, heatBox.r, heatBox.t, heatBox.b);
xAxes.push(hiddenAxis(gi, 0, heatColumns.length));
yAxes.push(hiddenAxis(gi, 0, rowNames.length, true));
const vMin = keyBreaks[0], vMax = keyBreaks[keyBreaks.length - 1];
heatValues.forEach((col, c) => {
  const path = [];
  col.forEach((v, r) => {
    const x = c + (v - vMin) / (vMax - vMin);
    path.push([x, r], [x, r + 1]);
  });
  series.push({ type: 'line', xAxisIndex: gi, yAxisIndex: gi, z: 5, silent: true, symbol: 'none', data: path, lineStyle: { color: '#19eef4', width: 1.5 } });
  const mid = c + (2.2 - vMin) / (vMax - vMin);
  series.push({ type: 'line', xAxisIndex: gi, yAxisIndex: gi, z: 5, silent: true, symbol: 'none', data: [[mid, 0], [mid, rowNames.length]], lineStyle: { color: '#45cfd2', width: 1.5, type: [7, 6] } });
});

// dendrograms
function walkTree(node, segs) {
  if (typeof node === 'number') return { pos: node + 0.5, h: 0 };
  const a = walkTree(node[1], segs);
  const b = walkTree(node[2], segs);
  segs.push([a.pos, a.h, b.pos, b.h, node[0]]);
  return { pos: (a.pos + b.pos) / 2, h: node[0] };
}

function treeSeries(tree, idx, sideways) {
  const segs = [];
  walkTree(tree, segs);
  const at = (pos, h) => (sideways ? [h, pos] : [pos, h]);
  return {
    type: 'custom', xAxisIndex: idx, yAxisIndex: idx, silent: true, data: segs,
    renderItem(params, api) {
      const p1 = api.value(0), h1 = api.value(1), p2 = api.value(2), h2 = api.value(3), h = api.value(4);
      return {
        type: 'polyline',
        shape: { points: [at(p1, h1), at(p1, h), at(p2, h), at(p2, h2)].map(c => api.coord(c)) },
        style: { stroke: '#000', lineWidth: 1.5, fill: null }
      };
    }
  };
}

gi = addGrid(heatBox.l, heatBox.r, 1553.8, 1750);
xAxes.push(hiddenAxis(gi, 0, heatColumns.length));
yAxes.push(hiddenAxis(gi, 0, 100));
series.push(treeSeries(topTree, gi, false));

gi = addGrid(35, 326, heatBox.t, heatBox.b);
xAxes.push(Object.assign(hiddenAxis(gi, 0, 100), { inverse: true }));
yAxes.push(hiddenAxis(gi, 0, rowNames.length, true));
series.push(treeSeries(leftTree, gi, true));

// group boxes above the heatmap and below it
addRect(354, 1703, 421, 1750, '#8080ff');
addRect(461.6, 1703, 729.6, 1750, '#ff80ff');
addRect(761, 1703, 797, 1750, '#e09090');
addRect(825.7, 1703, 1041, 1750, '#c6e29a');
[[348, 430, 1684.4], [515, 597, 1685.5], [735, 817, 1635.3], [875, 957, 1635.3]].forEach(b => addRect(b[0], b[2] - 2, b[1], b[2] + 2, '#444', 3));
addText('Group 1', 387, 1658, '24px ' + serif);
addText('Group 2', 558.4, 1658.5, '24px ' + serif);
addText('Group 3', 780, 1596, '24px ' + serif);
addText('Group 4', 915.5, 1596, '24px ' + serif);
addRect(340, 2328, 429, 2345.5, '#0000ff');
addRect(456, 2328, 735, 2345.5, '#ff00ff');
addRect(757.6, 2328, 796, 2345.5, '#c1272d');
addRect(820.8, 2328, 1051, 2345.5, '#8dc63f');
[[40.7, 157, '#0000ff', 'Group 1', 212], [310.8, 426.5, '#ff00ff', 'Group 2', 482], [577, 693, '#c1272d', 'Group 3', 748], [840, 957, '#8dc63f', 'Group 4', 1015]].forEach(g => {
  addRect(g[0], 2370, g[1], 2397, g[2]);
  addText(g[3], g[4], 2387, '28px ' + serif);
});
addText('U', 61.7, 1573, '44px ' + serif);
addText('V', 1198.7, 1576, '44px ' + serif);

// colour key
const keyBox = { l: 101, r: 317.8, t: 1585.7, b: 1656.3 };
gi = addGrid(keyBox.l, keyBox.r, keyBox.t, keyBox.b);
const keyBins = keyColors.map((c, i) => 'b' + i);
xAxes.push({ type: 'category', gridIndex: gi, data: keyBins, show: false });
yAxes.push({ type: 'category', gridIndex: gi, data: ['k'], show: false });
const keySeriesIndex = series.length;
series.push({
  type: 'heatmap', xAxisIndex: gi, yAxisIndex: gi, silent: true,
  data: keyBins.map((b, i) => [i, 0, (keyBreaks[i] + keyBreaks[i + 1]) / 2])
});
gi = addGrid(keyBox.l, keyBox.r, keyBox.t, keyBox.b);
const keyX = numAxis(gi, vMin, vMax, [1, 2, 3, 4], v => String(v), { fontFamily: sans, fontSize: 14, margin: 20 });
keyX.axisLine.lineStyle.width = 1;
keyX.axisTick.length = 10;
keyX.axisTick.lineStyle.width = 1;
xAxes.push(keyX);
const keyY = numAxis(gi, 0, 118, [0, 20, 40, 60, 80, 100], v => String(v), { fontFamily: sans, fontSize: 13, rotate: 90, margin: 9 });
keyY.axisLabel.customValues = [0, 60];
keyY.axisLine.show = false;
keyY.axisTick.lineStyle.width = 1;
keyY.axisTick.length = 8;
keyY.offset = 2;
yAxes.push(keyY);
const histPath = [];
keyCounts.forEach((n, i) => histPath.push([keyBreaks[i], n], [keyBreaks[i + 1], n]));
series.push({ type: 'line', xAxisIndex: gi, yAxisIndex: gi, z: 5, silent: true, symbol: 'none', data: histPath, lineStyle: { color: '#19eef4', width: 1.5 } });
series.push({ type: 'line', xAxisIndex: gi, yAxisIndex: gi, z: 5, silent: true, symbol: 'none', data: [[2.2, 0], [2.2, 118]], lineStyle: { color: '#19eef4', width: 1.5, type: [5, 5] } });
addText('Color Key', 207.6, 1557, 'bold 18px ' + sans);
addText('and Histogram', 207.6, 1580, 'bold 18px ' + sans);
addText('Value', 207.6, 1715, '16px ' + sans);
addText('Count', 59, 1620, '9px ' + sans, { rotation: Math.PI / 2 });

// network, the black CM node sits over the middle of the second line
addText('Score: -287.9163', 1496.6, 1653, '31px ' + sans, { z: 0 });
addText('Relscore: 0.999902859', 1504.8, 1695.4, '31px ' + sans, { z: 0 });
gi = addGrid(1100, 1960, 1540, 2404);
xAxes.push(hiddenAxis(gi, 0, 860));
yAxes.push(hiddenAxis(gi, 0, 864, true));
series.push({
  type: 'scatter', xAxisIndex: gi, yAxisIndex: gi, z: 3, silent: true, symbolSize: [112, 128],
  data: netNodes.map(n => ({
    value: [n[1], n[2]], name: n[0],
    itemStyle: { color: n[0] === 'CM' ? '#000' : 'rgba(255,255,255,0)', borderColor: '#000', borderWidth: 1.2, opacity: 1 },
    label: { color: n[0] === 'CM' ? '#fff' : '#000' }
  })),
  label: { show: true, position: 'inside', formatter: '{b}', fontFamily: sans, fontSize: 31, offset: [0, 4] }
});
series.push({
  type: 'custom', xAxisIndex: gi, yAxisIndex: gi, z: 4, silent: true, data: netEdges,
  renderItem(params, api) {
    const a = api.coord([api.value(0), api.value(1)]);
    const b = api.coord([api.value(2), api.value(3)]);
    const ang = Math.atan2(a[1] - b[1], a[0] - b[0]);
    const barb = s => [b[0] + 53 * Math.cos(ang + s * 0.47), b[1] + 53 * Math.sin(ang + s * 0.47)];
    return {
      type: 'group', children: [
        { type: 'polyline', shape: { points: [a, b] }, style: { stroke: '#000', lineWidth: 1.3, fill: null } },
        { type: 'polyline', shape: { points: [barb(1), b, barb(-1)] }, style: { stroke: '#000', lineWidth: 1.3, fill: null } }
      ]
    };
  }
});

const chart = echarts.init(document.getElementById('main'), null, { renderer: 'canvas' });
chart.setOption({
  animation: false,
  backgroundColor: '#fff',
  tooltip: { show: false },
  grid: grids,
  xAxis: xAxes,
  yAxis: yAxes,
  legend: legends,
  visualMap: {
    type: 'piecewise', show: false, dimension: 2, seriesIndex: [heatSeriesIndex, keySeriesIndex],
    pieces: keyColors.map((c, i) => ({ gte: keyBreaks[i], lt: keyBreaks[i + 1], color: c }))
  },
  graphic: { elements: gfx },
  series: series
});
</script>
</body>
</html>
